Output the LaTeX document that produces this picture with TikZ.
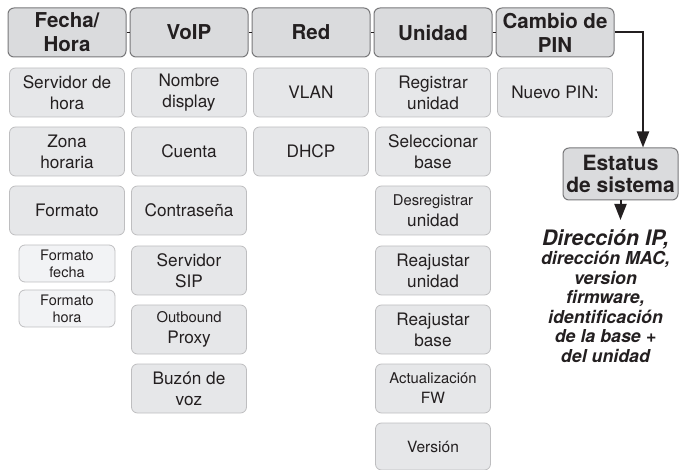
\documentclass[tikz,border=0pt]{standalone}
\usepackage{fontspec}
\setmainfont{TeX Gyre Heros}
\usetikzlibrary{arrows.meta}

\definecolor{headfill}{RGB}{218,219,221}
\definecolor{headline}{RGB}{120,120,122}
\definecolor{subfill}{RGB}{230,231,233}
\definecolor{subline}{RGB}{190,190,192}
\definecolor{smallfill}{RGB}{242,243,245}
\definecolor{ink}{RGB}{35,31,32}

\tikzset{
  head/.style={draw=headline, fill=headfill, line width=1pt, rounded corners=6pt,
    minimum width=118pt, minimum height=49pt, inner sep=0pt, align=center,
    text=ink, font=\fontsize{20.5}{24}\selectfont\bfseries},
  sub/.style={draw=subline, fill=subfill, line width=0.8pt, rounded corners=6pt,
    minimum width=115pt, minimum height=49pt, inner sep=0pt, align=center,
    text=ink, font=\fontsize{17.2}{21}\selectfont},
  subsmall/.style={sub, fill=smallfill, minimum width=96pt, minimum height=37pt,
    font=\fontsize{14.5}{17}\selectfont},
  link/.style={draw=ink, line width=1.5pt},
  arr/.style={draw=ink, line width=2pt, -{Triangle[length=16pt,width=12pt]}},
}
\newcommand{\smalltxt}[1]{{\fontsize{14.8}{17}\selectfont #1}}

\begin{document}
\begin{tikzpicture}[x=1pt,y=-1pt]
      \useasboundingbox (0,0) rectangle (680,470);
      % menu heads
      \node[head] (fecha) at (67,32.5) {Fecha/\\Hora};
      \node[head] (voip) at (189,32.5) {VoIP};
      \node[head] (red) at (311,32.5) {Red};
      \node[head] (unidad) at (433,32.5) {Unidad};
      \node[head] (pin) at (555,32.5) {Cambio de\\PIN};
      % Fecha/Hora
      \node[sub] (servhora) at (67,92.5) {Servidor de\\hora};
      \node[sub] (zona) at (67,151.5) {Zona\\horaria};
      \node[sub] (formato) at (67,210.5) {Formato};
      \node[subsmall] (ffecha) at (67,263.5) {Formato\\fecha};
      \node[subsmall] (fhora) at (67,308.5) {Formato\\hora};
      % VoIP
      \node[sub] (nombre) at (189,92.5) {Nombre\\display};
      \node[sub] (cuenta) at (189,151.5) {Cuenta};
      \node[sub] (contra) at (189,210.5) {Contraseña};
      \node[sub] (sip) at (189,270.5) {Servidor\\SIP};
      \node[sub] (proxy) at (189,329.5) {\smalltxt{Outbound}\\Proxy};
      \node[sub] (buzon) at (189,388.5) {Buzón de\\voz};
      % Red
      \node[sub] (vlan) at (311,92.5) {VLAN};
      \node[sub] (dhcp) at (311,151.5) {DHCP};
      % Unidad
      \node[sub] (registrar) at (433,92.5) {Registrar\\unidad};
      \node[sub] (selbase) at (433,151.5) {Seleccionar\\base};
      \node[sub] (desreg) at (433,210.5) {\smalltxt{Desregistrar}\\unidad};
      \node[sub] (reajunidad) at (433,270.5) {Reajustar\\unidad};
      \node[sub] (reajbase) at (433,329.5) {Reajustar\\base};
      \node[sub, font=\fontsize{15.5}{20}\selectfont] (fw) at (433,388.5) {\smalltxt{Actualización}\\FW};
      \node[sub, minimum height=47pt, font=\fontsize{15.5}{20}\selectfont] (version) at (433,446.5) {Versión};
      % Cambio de PIN
      \node[sub] (nuevopin) at (555,92.5) {Nuevo PIN:};
      % status
      \node[head, minimum width=115pt, minimum height=52pt, font=\fontsize{21}{22}\selectfont\bfseries] (estatus) at (620.5,174) {Estatus\\de sistema};
      \node[inner sep=0pt, anchor=north, align=center, text=ink,
        font=\fontsize{17.8}{19.5}\selectfont\bfseries\itshape] (info) at (605.5,229)
        {{\fontsize{21.3}{19.5}\selectfont Dirección IP,}\\dirección MAC,\\version\\firmware,\\identificación\\de la base +\\del unidad};
      % connectors
      \coordinate (bend) at (643,32.5);
      \draw[link] (fecha.east) -- (voip.west);
      \draw[link] (voip.east) -- (red.west);
      \draw[link] (red.east) -- (unidad.west);
      \draw[link] (unidad.east) -- (pin.west);
      \draw[arr] (pin.east) -- (bend) -- (bend |- estatus.north);
      \draw[arr, shorten >=9pt] (estatus.south) -- (estatus.south |- info.north);
\end{tikzpicture}
\end{document}
